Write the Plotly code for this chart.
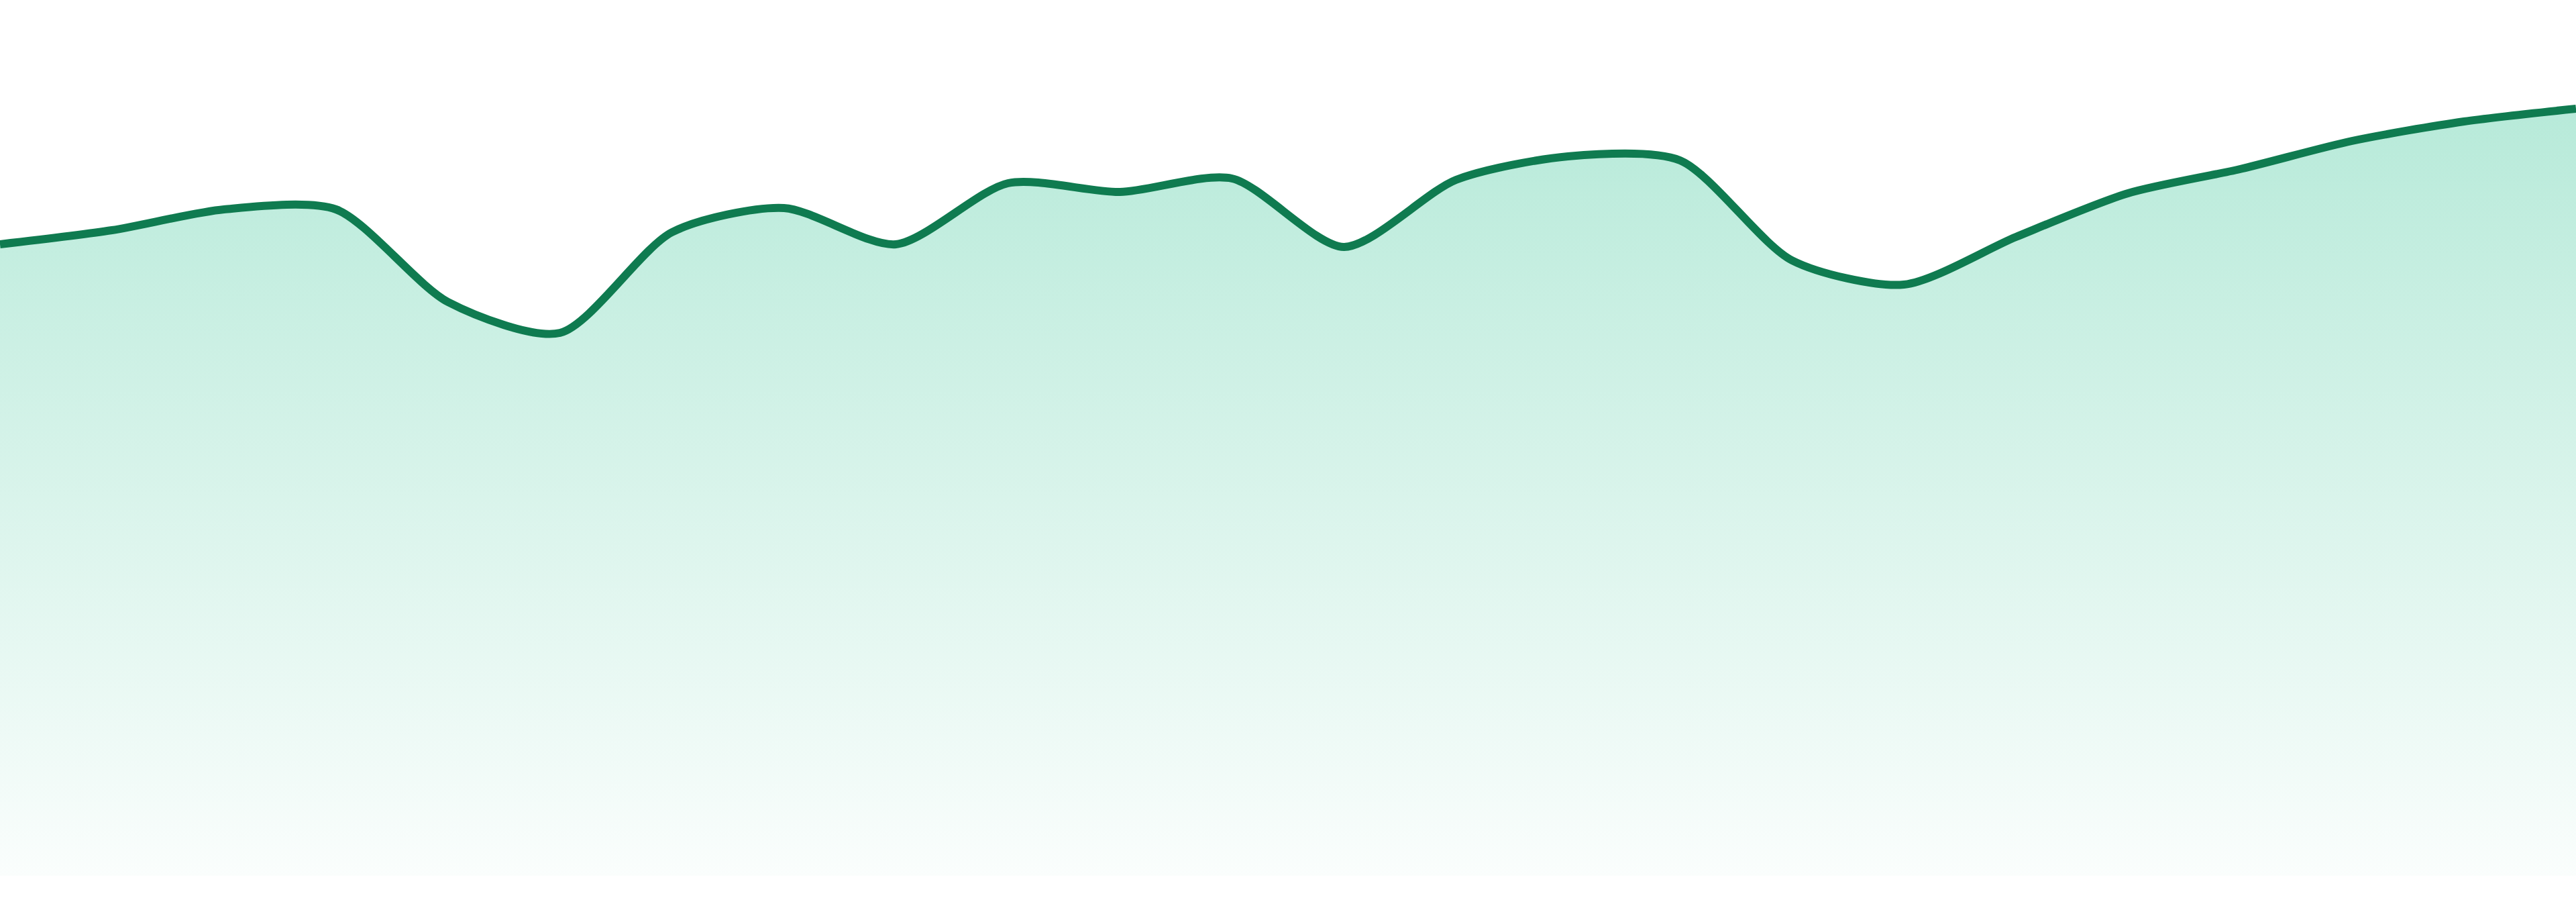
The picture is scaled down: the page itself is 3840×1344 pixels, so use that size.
import plotly.graph_objects as go

# Data (24 evenly spaced points)
x_index = list(range(24))
values = [941, 962, 993, 993, 855, 809, 959, 995, 941, 1032, 1019, 1039,
          937, 1037, 1072, 1066, 917, 881, 952, 1017, 1053, 1095, 1124, 1143]

fig = go.Figure()
fig.add_trace(go.Scatter(
    x=x_index, y=values,
    mode="lines",
    line=dict(color="#0f7b50", width=12, shape="spline", smoothing=0.75),
    fill="tozeroy",
    fillgradient=dict(
        type="vertical",
        start=0, stop=max(values),
        colorscale=[[0, "rgba(16,185,129,0.02)"], [1, "rgba(16,185,129,0.30)"]],
    ),
    hoverinfo="skip",
))

fig.update_layout(
    width=3840, height=1344,
    margin=dict(l=0, r=0, t=0, b=39, pad=0),
    paper_bgcolor="white", plot_bgcolor="white",
    showlegend=False,
    xaxis=dict(visible=False, range=[0, 23], fixedrange=True),
    yaxis=dict(visible=False, range=[0, 1305], fixedrange=True),
)

fig.write_html(
    "out.html",
    config={"displayModeBar": False},
    post_script="document.body.style.margin='0';document.body.style.overflow='hidden';",
)
